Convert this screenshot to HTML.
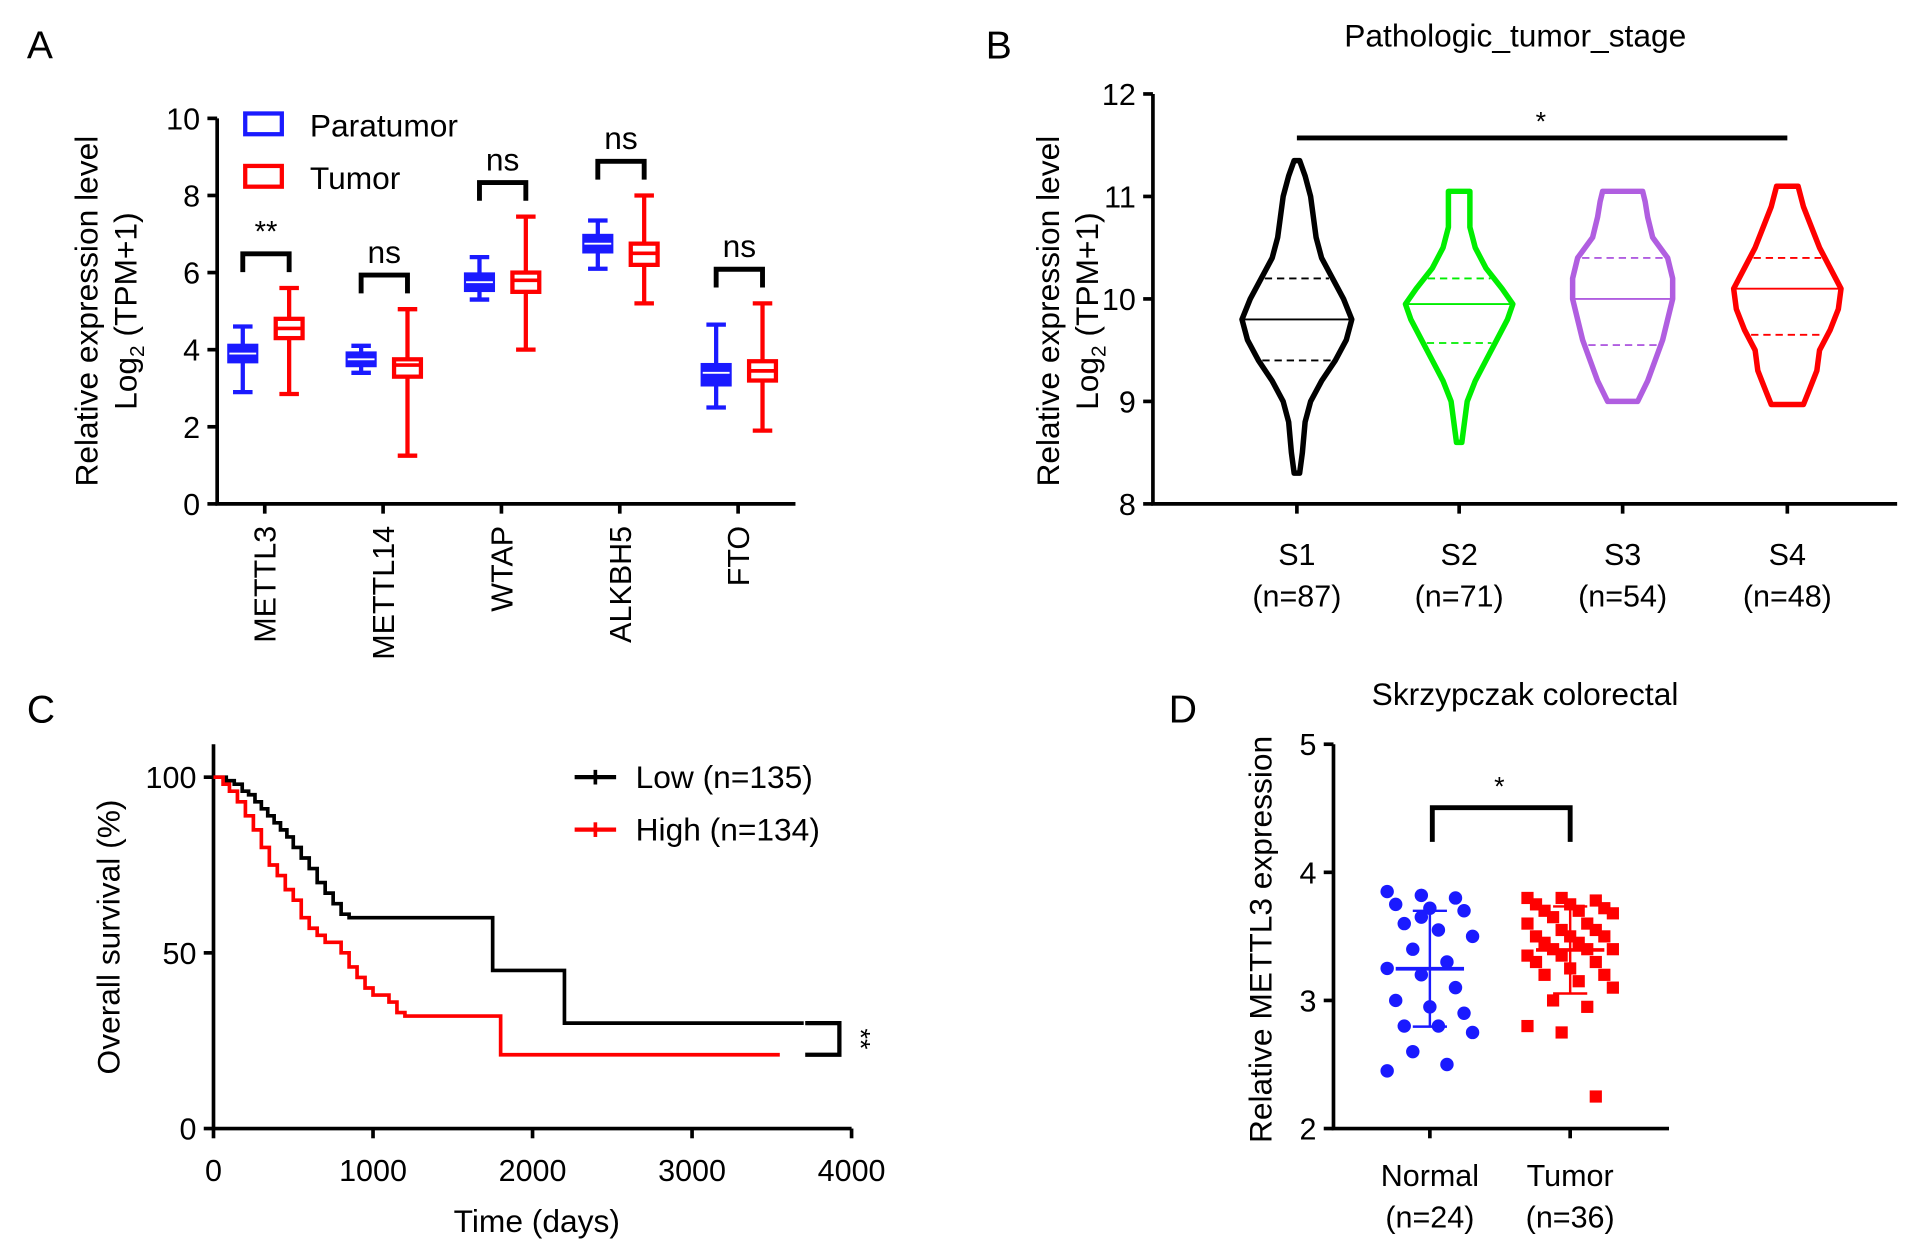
<!DOCTYPE html>
<html><head><meta charset="utf-8"><style>
html,body{margin:0;padding:0;background:#fff}
svg{display:block}
text{font-family:"Liberation Sans",Arial,sans-serif;fill:#000}
</style></head><body>
<svg id="s" width="1913" height="1253" viewBox="0 0 1568 1027" xmlns="http://www.w3.org/2000/svg">
<text x="22" y="48" font-size="32">A</text>
<text x="808" y="48" font-size="32">B</text>
<text x="22" y="592" font-size="32">C</text>
<text x="958" y="592" font-size="32">D</text>
<g id="gA"></g>
<g id="gB"></g>
<g id="gC"></g>
<g id="gD"></g>
</svg>
<script>
// ---------- Panel A data ----------
const aGenes=["METTL3","METTL14","WTAP","ALKBH5","FTO"];
const aPara=[[2.9,3.7,3.9,4.1,4.6],[3.4,3.6,3.75,3.9,4.1],[5.3,5.55,5.75,5.95,6.4],[6.1,6.55,6.75,6.95,7.35],[2.5,3.1,3.4,3.6,4.65]];
const aTumor=[[2.85,4.3,4.55,4.8,5.6],[1.25,3.3,3.6,3.75,5.05],[4.0,5.5,5.8,6.0,7.45],[5.2,6.2,6.5,6.75,8.0],[1.9,3.2,3.45,3.7,5.2]];
const aSig=["**","ns","ns","ns","ns"];
const aTicks=[0,2,4,6,8,10];
// ---------- Panel B data ----------
const bCats=["S1","S2","S3","S4"];
const bN=["(n=87)","(n=71)","(n=54)","(n=48)"];
const bColors=["#000","#00ee00","#b05ee0","#f00"];
const bY=[[8.3,8.5,8.8,9.0,9.2,9.4,9.6,9.8,10.0,10.2,10.4,10.6,10.8,11.0,11.2,11.35],
[8.6,8.8,9.0,9.2,9.4,9.6,9.8,9.95,10.1,10.3,10.5,10.7,10.9,11.05],
[9.0,9.2,9.4,9.6,9.8,10.0,10.2,10.4,10.6,10.8,10.95,11.05],
[8.97,9.1,9.3,9.5,9.7,9.9,10.1,10.3,10.5,10.7,10.9,11.1]];
const bD=[[0.05,0.1,0.15,0.25,0.45,0.7,0.9,1.0,0.85,0.65,0.45,0.35,0.3,0.25,0.15,0.05],
[0.05,0.1,0.15,0.3,0.5,0.7,0.9,1.0,0.8,0.5,0.3,0.2,0.2,0.2],
[0.3,0.5,0.65,0.8,0.9,1.0,1.0,0.9,0.6,0.5,0.45,0.4],
[0.3,0.4,0.55,0.6,0.8,0.95,1.0,0.8,0.6,0.45,0.3,0.2]];
const bMed=[9.8,9.95,10.0,10.1];
const bQ1=[9.4,9.57,9.55,9.65];
const bQ3=[10.2,10.2,10.4,10.4];
const bTicks=[8,9,10,11,12];
// ---------- Panel C data ----------
const cLowT=[0,80,130,180,220,260,300,340,380,420,460,500,550,600,650,700,750,800,850,1750,2200,3700];
const cLowS=[100,99,98,96,95,93,91,89,87,85,83,80,77,74,70,67,64,61,60,45,30,30];
const cHighT=[0,60,100,150,200,250,300,350,400,450,500,550,600,650,700,800,850,900,950,1000,1100,1150,1200,1800,3550];
const cHighS=[100,98,96,93,89,85,80,75,72,68,65,60,57,55,53,50,46,43,40,38,36,33,32,21,21];
const cXTicks=[0,1000,2000,3000,4000];
const cYTicks=[0,50,100];
// ---------- Panel D data ----------
const dNormal=[3.85,3.82,3.8,3.75,3.72,3.7,3.6,3.55,3.5,3.4,3.3,3.25,3.2,3.1,3.0,2.95,2.9,2.8,2.8,2.75,2.6,2.5,2.45,3.65];
const dTumor=[3.8,3.8,3.78,3.75,3.75,3.72,3.7,3.7,3.68,3.65,3.6,3.6,3.55,3.55,3.5,3.5,3.5,3.45,3.45,3.4,3.4,3.4,3.35,3.35,3.3,3.3,3.25,3.2,3.2,3.15,3.1,3.0,2.95,2.8,2.75,2.25];
const dTicks=[2,3,4,5];

const NS="http://www.w3.org/2000/svg";
const FS=25, FT=26;
function mk(p,tag,at,txt){const e=document.createElementNS(NS,tag);for(const k in at)e.setAttribute(k,at[k]);if(txt!==undefined)e.textContent=txt;p.appendChild(e);return e;}
function line(p,x1,y1,x2,y2,c,w,extra){const e=mk(p,"line",Object.assign({x1,y1,x2,y2,stroke:c,"stroke-width":w},extra||{}));return e;}

// ===== Panel A =====
(function(){
const g=document.getElementById("gA");
const x0=178,x1=652,yb=413,yt=97;
const ys=v=>yb-(v/10)*(yb-yt);
const ax=mk(g,"path",{d:`M${x0} ${yt} V${yb} H${x1}`,fill:"none",stroke:"#000","stroke-width":3});

aTicks.forEach(t=>{line(g,x0-8,ys(t),x0,ys(t),"#000",3);
 const tx=mk(g,"text",{x:x0-14,y:ys(t)+9,"font-size":FS,"text-anchor":"end"},t);
 });
const step=97;
aGenes.forEach((gn,i)=>{
 const cx=x0+39+step*i;
 line(g,cx,yb,cx,yb+8,"#000",3);
 const lb=mk(g,"text",{x:0,y:0,"font-size":FS,"text-anchor":"end",transform:`translate(${cx+9},${yb+18}) rotate(-90)`},gn);
 
 [[aPara[i],"#1a1aff",cx-18,true],[aTumor[i],"#f00",cx+20,false]].forEach(([b,c,bx,fill])=>{
  const bg=mk(g,"g",{});
  
  line(bg,bx,ys(b[0]),bx,ys(b[4]),c,3.5);
  line(bg,bx-8,ys(b[0]),bx+8,ys(b[0]),c,3.5);line(bg,bx-8,ys(b[4]),bx+8,ys(b[4]),c,3.5);
  mk(bg,"rect",{x:bx-11,y:ys(b[3]),width:22,height:ys(b[1])-ys(b[3]),fill:fill?c:"#fff",stroke:c,"stroke-width":3.5});
  line(bg,bx-11,ys(b[2]),bx+11,ys(b[2]),fill?"#fff":c,fill?1.5:3);
 });
 const top=Math.max(aPara[i][4],aTumor[i][4]);
 const by=ys(top)-28;
 const br=mk(g,"path",{d:`M${cx-18} ${by+15} V${by} H${cx+20} V${by+15}`,fill:"none",stroke:"#000","stroke-width":4});
 
 const st=mk(g,"text",{x:cx+1,y:by-10,"font-size":aSig[i]=="**"?24:FT,"text-anchor":"middle",fill:aSig[i]=="**"?"#555":"#000"},aSig[i]);
 
});
const yl=mk(g,"text",{transform:"translate(80,255) rotate(-90)","font-size":FT,"text-anchor":"middle"},"Relative expression level");

const yl2=mk(g,"text",{transform:"translate(112,255) rotate(-90)","font-size":FT,"text-anchor":"middle"});

mk(yl2,"tspan",{},"Log");mk(yl2,"tspan",{"font-size":17,dy:6},"2");mk(yl2,"tspan",{dy:-6}," (TPM+1)");
[["Paratumor","#1a1aff",103],["Tumor","#f00",146]].forEach(([n,c,y])=>{
 const lg=mk(g,"g",{});
 mk(lg,"rect",{x:201,y:y-10,width:30,height:17,fill:"none",stroke:c,"stroke-width":3.5});
 mk(lg,"text",{x:254,y:y+9,"font-size":FT},n);});
})();

// ===== Panel B =====
(function(){
const g=document.getElementById("gB");
const x0=945,x1=1555,yb=413,yt=77;
const ys=v=>yb-(v-8)/4*(yb-yt);
const ax=mk(g,"path",{d:`M${x0} ${yt} V${yb} H${x1}`,fill:"none",stroke:"#000","stroke-width":3});

bTicks.forEach(t=>{line(g,x0-8,ys(t),x0,ys(t),"#000",3);
 const tx=mk(g,"text",{x:x0-14,y:ys(t)+9,"font-size":FS,"text-anchor":"end"},t);
 });
const cxs=[1063,1196,1330,1465];
const hw=[45,44,41,44];
function widthAt(i,v){const Y=bY[i],D=bD[i];for(let k=0;k<Y.length-1;k++){if(v>=Y[k]&&v<=Y[k+1]){const f=(v-Y[k])/(Y[k+1]-Y[k]);return (D[k]+(D[k+1]-D[k])*f)*hw[i];}}return 0;}
bCats.forEach((c,i)=>{
 const cx=cxs[i];
 line(g,cx,yb,cx,yb+8,"#000",3);
 const t1=mk(g,"text",{x:cx,y:463,"font-size":FS,"text-anchor":"middle"},c);
 
 const t2=mk(g,"text",{x:cx,y:497,"font-size":FS,"text-anchor":"middle"},bN[i]);
 
 const Y=bY[i],D=bD[i];
 let d="";
 Y.forEach((v,k)=>{d+=(k?"L":"M")+(cx+D[k]*hw[i])+" "+ys(v)+" ";});
 for(let k=Y.length-1;k>=0;k--)d+="L"+(cx-D[k]*hw[i])+" "+ys(Y[k])+" ";
 d+="Z";
 const vp=mk(g,"path",{d,fill:"none",stroke:bColors[i],"stroke-width":4.5,"stroke-linejoin":"round"});
 
 const w=widthAt(i,bMed[i]);
 line(g,cx-w,ys(bMed[i]),cx+w,ys(bMed[i]),bColors[i],1.5);
 [bQ1[i],bQ3[i]].forEach(q=>{const wq=widthAt(i,q)*0.9;line(g,cx-wq,ys(q),cx+wq,ys(q),bColors[i],1.5,{"stroke-dasharray":"6,4"});});
});
const sb=line(g,cxs[0],113,cxs[3],113,"#000",4);

const ss=mk(g,"text",{x:1263,y:107,"font-size":22,"text-anchor":"middle"},"*");

const tt=mk(g,"text",{x:1242,y:38,"font-size":FT,"text-anchor":"middle"},"Pathologic_tumor_stage");

const yl=mk(g,"text",{transform:"translate(868,255) rotate(-90)","font-size":FT,"text-anchor":"middle"},"Relative expression level");

const yl2=mk(g,"text",{transform:"translate(900,255) rotate(-90)","font-size":FT,"text-anchor":"middle"});

mk(yl2,"tspan",{},"Log");mk(yl2,"tspan",{"font-size":17,dy:6},"2");mk(yl2,"tspan",{dy:-6}," (TPM+1)");
})();

// ===== Panel C =====
(function(){
const g=document.getElementById("gC");
const x0=175,x1=698,yb=925,yt=610;
const xs=v=>x0+v/4000*(x1-x0), ys=v=>yb-v/100*(yb-637);
const ax=mk(g,"path",{d:`M${x0} ${yt} V${yb} H${x1}`,fill:"none",stroke:"#000","stroke-width":3});

cYTicks.forEach(t=>{line(g,x0-8,ys(t),x0,ys(t),"#000",3);
 const tx=mk(g,"text",{x:x0-14,y:ys(t)+9,"font-size":FS,"text-anchor":"end"},t);
 });
cXTicks.forEach(t=>{line(g,xs(t),yb,xs(t),yb+8,"#000",3);
 const tx=mk(g,"text",{x:xs(t),y:yb+43,"font-size":FS,"text-anchor":"middle"},t);
 });
function stepPath(T,S){let d=`M${xs(T[0])} ${ys(S[0])}`;for(let k=1;k<T.length;k++){d+=` H${xs(T[k])} V${ys(S[k])}`;}return d;}
const pl=mk(g,"path",{d:stepPath(cLowT,cLowS),fill:"none",stroke:"#000","stroke-width":3});

const ph=mk(g,"path",{d:stepPath(cHighT,cHighS),fill:"none",stroke:"#f00","stroke-width":3});

const br=mk(g,"path",{d:`M660 ${ys(30)} H688 V${ys(21)} H660`,fill:"none",stroke:"#000","stroke-width":3.5});

const st=mk(g,"text",{transform:`translate(698,${ys(25.5)}) rotate(90)`,"font-size":22,"text-anchor":"middle",fill:"#555"},"**");

[["Low (n=135)","#000",637],["High (n=134)","#f00",680]].forEach(([n,c,y])=>{
 const lg=mk(g,"g",{});
 line(lg,471,y,505,y,c,3.5);line(lg,488,y-6,488,y+6,c,3);
 mk(lg,"text",{x:521,y:y+9,"font-size":FT},n);});
const xl=mk(g,"text",{x:440,y:1010,"font-size":FT,"text-anchor":"middle"},"Time (days)");

const yl=mk(g,"text",{transform:"translate(98,768) rotate(-90)","font-size":FT,"text-anchor":"middle"},"Overall survival (%)");

})();

// ===== Panel D =====
(function(){
const g=document.getElementById("gD");
const x0=1093,x1=1368,yb=925,yt=610;
const ys=v=>yb-(v-2)/3*(yb-yt);
const ax=mk(g,"path",{d:`M${x0} ${yt} V${yb} H${x1}`,fill:"none",stroke:"#000","stroke-width":3});

dTicks.forEach(t=>{line(g,x0-8,ys(t),x0,ys(t),"#000",3);
 const tx=mk(g,"text",{x:x0-14,y:ys(t)+9,"font-size":FS,"text-anchor":"end"},t);
 });
function stats(a){const m=a.reduce((s,v)=>s+v,0)/a.length;const sd=Math.sqrt(a.reduce((s,v)=>s+(v-m)*(v-m),0)/(a.length-1));return [m,sd];}
[[dNormal,"#1a1aff",1172,"Normal","(n=24)",true],[dTumor,"#f00",1287,"Tumor","(n=36)",false]].forEach(([arr,c,cx,lab,n,circ])=>{
 line(g,cx,yb,cx,yb+8,"#000",3);
 const t1=mk(g,"text",{x:cx,y:972,"font-size":FS,"text-anchor":"middle"},lab);
 
 const t2=mk(g,"text",{x:cx,y:1006,"font-size":FS,"text-anchor":"middle"},n);
 
 arr.forEach((v,k)=>{
  const off=((k*37)%11-5)*7;
  let p;
  if(circ)p=mk(g,"circle",{cx:cx+off,cy:ys(v),r:5.5,fill:c});
  else p=mk(g,"rect",{x:cx+off-5,y:ys(v)-5,width:10,height:10,fill:c});
  
 });
 const [m,sd]=stats(arr);
 const ml=line(g,cx-28,ys(m),cx+28,ys(m),c,3);
 
 line(g,cx,ys(m-sd),cx,ys(m+sd),c,2);
 line(g,cx-14,ys(m-sd),cx+14,ys(m-sd),c,2);line(g,cx-14,ys(m+sd),cx+14,ys(m+sd),c,2);
});
const br=mk(g,"path",{d:"M1174 690 V662 H1287 V690",fill:"none",stroke:"#000","stroke-width":4});

const st=mk(g,"text",{x:1229,y:652,"font-size":22,"text-anchor":"middle"},"*");

const tt=mk(g,"text",{x:1250,y:578,"font-size":FT,"text-anchor":"middle"},"Skrzypczak colorectal");

const yl=mk(g,"text",{transform:"translate(1042,770) rotate(-90)","font-size":FT,"text-anchor":"middle"},"Relative METTL3 expression");

})();
</script>
</body></html>
